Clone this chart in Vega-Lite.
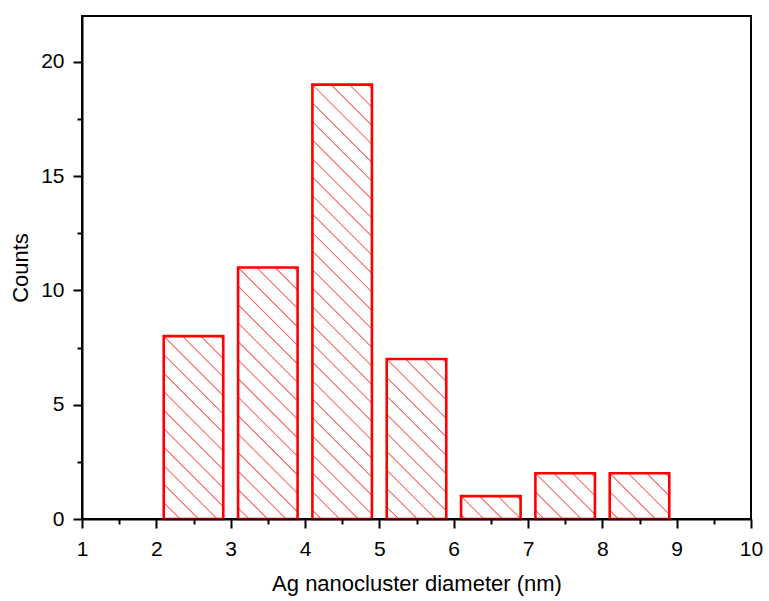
{
  "$schema": "https://vega.github.io/schema/vega-lite/v6.json",
  "width": 669,
  "height": 503,
  "autosize": {"type": "none"},
  "padding": {"left": 82, "top": 16, "right": 18, "bottom": 82},
  "background": "white",
  "config": {"view": {"stroke": "#000000", "strokeWidth": 2}, "font": "Liberation Sans"},
  "data": {"values": [
    {"bin_start": 2, "bin_end": 3, "count": 8},
    {"bin_start": 3, "bin_end": 4, "count": 11},
    {"bin_start": 4, "bin_end": 5, "count": 19},
    {"bin_start": 5, "bin_end": 6, "count": 7},
    {"bin_start": 6, "bin_end": 7, "count": 1},
    {"bin_start": 7, "bin_end": 8, "count": 2},
    {"bin_start": 8, "bin_end": 9, "count": 2}
  ]},
  "mark": {"type": "bar", "stroke": "#ff0000", "strokeWidth": 2.6, "strokeJoin": "miter", "xOffset": 7.4, "x2Offset": -7.4},
  "encoding": {
    "x": {
      "field": "bin_start", "type": "quantitative",
      "scale": {"domain": [1, 10], "nice": false, "zero": false},
      "axis": {
        "title": "Ag nanocluster diameter (nm)",
        "values": [1, 1.5, 2, 2.5, 3, 3.5, 4, 4.5, 5, 5.5, 6, 6.5, 7, 7.5, 8, 8.5, 9, 9.5, 10],
        "labelExpr": "datum.value % 1 === 0 ? format(datum.value, 'd') : ''",
        "tickSize": {"condition": {"test": "datum.value % 1 !== 0", "value": 5}, "value": 9},
        "tickWidth": 2, "tickColor": "#000000",
        "domainColor": "#000000", "domainWidth": 2,
        "labelFontSize": 21, "labelColor": "#000000", "labelPadding": 10,
        "labelFlush": false, "labelOverlap": false,
        "titleFontSize": 22, "titleFontWeight": "normal", "titleColor": "#000000", "titlePadding": 14,
        "grid": false, "zindex": 1
      }
    },
    "x2": {"field": "bin_end"},
    "y": {
      "field": "count", "type": "quantitative",
      "scale": {"domain": [0, 22], "nice": false},
      "axis": {
        "title": "Counts",
        "values": [0, 2.5, 5, 7.5, 10, 12.5, 15, 17.5, 20],
        "labelExpr": "datum.value % 5 === 0 ? format(datum.value, 'd') : ''",
        "tickSize": {"condition": {"test": "datum.value % 5 !== 0", "value": 5}, "value": 9},
        "tickWidth": 2, "tickColor": "#000000",
        "domainColor": "#000000", "domainWidth": 2,
        "labelFontSize": 21, "labelColor": "#000000", "labelPadding": 9,
        "labelOverlap": false,
        "titleFontSize": 22, "titleFontWeight": "normal", "titleColor": "#000000", "titlePadding": 8,
        "grid": false, "zindex": 1
      }
    },
    "y2": {"datum": 0},
    "fill": {
      "condition": [
        {"test": "datum.count === 8", "value": {"gradient": "linear", "x1": 0, "y1": 1, "x2": 0.3899, "y2": -0.1984, "stops": [
          {"offset": 0.0627, "color": "#ffffff"}, {"offset": 0.0660, "color": "#ff7070"}, {"offset": 0.0694, "color": "#ff7070"}, {"offset": 0.0727, "color": "#ffffff"},
          {"offset": 0.1390, "color": "#ffffff"}, {"offset": 0.1423, "color": "#ff7070"}, {"offset": 0.1457, "color": "#ff7070"}, {"offset": 0.1490, "color": "#ffffff"},
          {"offset": 0.2153, "color": "#ffffff"}, {"offset": 0.2186, "color": "#ff7070"}, {"offset": 0.2220, "color": "#ff7070"}, {"offset": 0.2253, "color": "#ffffff"},
          {"offset": 0.2916, "color": "#ffffff"}, {"offset": 0.2949, "color": "#ff7070"}, {"offset": 0.2983, "color": "#ff7070"}, {"offset": 0.3016, "color": "#ffffff"},
          {"offset": 0.3680, "color": "#ffffff"}, {"offset": 0.3713, "color": "#ff7070"}, {"offset": 0.3747, "color": "#ff7070"}, {"offset": 0.3780, "color": "#ffffff"},
          {"offset": 0.4443, "color": "#ffffff"}, {"offset": 0.4476, "color": "#ff7070"}, {"offset": 0.4510, "color": "#ff7070"}, {"offset": 0.4543, "color": "#ffffff"},
          {"offset": 0.5206, "color": "#ffffff"}, {"offset": 0.5239, "color": "#ff7070"}, {"offset": 0.5273, "color": "#ff7070"}, {"offset": 0.5306, "color": "#ffffff"},
          {"offset": 0.5969, "color": "#ffffff"}, {"offset": 0.6002, "color": "#ff7070"}, {"offset": 0.6036, "color": "#ff7070"}, {"offset": 0.6069, "color": "#ffffff"},
          {"offset": 0.6732, "color": "#ffffff"}, {"offset": 0.6765, "color": "#ff7070"}, {"offset": 0.6799, "color": "#ff7070"}, {"offset": 0.6832, "color": "#ffffff"},
          {"offset": 0.7496, "color": "#ffffff"}, {"offset": 0.7529, "color": "#ff7070"}, {"offset": 0.7563, "color": "#ff7070"}, {"offset": 0.7596, "color": "#ffffff"},
          {"offset": 0.8259, "color": "#ffffff"}, {"offset": 0.8292, "color": "#ff7070"}, {"offset": 0.8326, "color": "#ff7070"}, {"offset": 0.8359, "color": "#ffffff"},
          {"offset": 0.9022, "color": "#ffffff"}, {"offset": 0.9055, "color": "#ff7070"}, {"offset": 0.9089, "color": "#ff7070"}, {"offset": 0.9122, "color": "#ffffff"},
          {"offset": 0.9785, "color": "#ffffff"}, {"offset": 0.9818, "color": "#ff7070"}, {"offset": 0.9852, "color": "#ff7070"}, {"offset": 0.9885, "color": "#ffffff"}
        ]}},
        {"test": "datum.count === 11", "value": {"gradient": "linear", "x1": 0, "y1": 1, "x2": 0.2770, "y2": -0.1710, "stops": [
          {"offset": 0.0315, "color": "#ffffff"}, {"offset": 0.0341, "color": "#ff7070"}, {"offset": 0.0367, "color": "#ff7070"}, {"offset": 0.0393, "color": "#ffffff"},
          {"offset": 0.0910, "color": "#ffffff"}, {"offset": 0.0936, "color": "#ff7070"}, {"offset": 0.0962, "color": "#ff7070"}, {"offset": 0.0988, "color": "#ffffff"},
          {"offset": 0.1504, "color": "#ffffff"}, {"offset": 0.1530, "color": "#ff7070"}, {"offset": 0.1556, "color": "#ff7070"}, {"offset": 0.1582, "color": "#ffffff"},
          {"offset": 0.2099, "color": "#ffffff"}, {"offset": 0.2125, "color": "#ff7070"}, {"offset": 0.2151, "color": "#ff7070"}, {"offset": 0.2177, "color": "#ffffff"},
          {"offset": 0.2694, "color": "#ffffff"}, {"offset": 0.2720, "color": "#ff7070"}, {"offset": 0.2746, "color": "#ff7070"}, {"offset": 0.2772, "color": "#ffffff"},
          {"offset": 0.3289, "color": "#ffffff"}, {"offset": 0.3315, "color": "#ff7070"}, {"offset": 0.3341, "color": "#ff7070"}, {"offset": 0.3367, "color": "#ffffff"},
          {"offset": 0.3884, "color": "#ffffff"}, {"offset": 0.3910, "color": "#ff7070"}, {"offset": 0.3936, "color": "#ff7070"}, {"offset": 0.3962, "color": "#ffffff"},
          {"offset": 0.4479, "color": "#ffffff"}, {"offset": 0.4505, "color": "#ff7070"}, {"offset": 0.4531, "color": "#ff7070"}, {"offset": 0.4557, "color": "#ffffff"},
          {"offset": 0.5074, "color": "#ffffff"}, {"offset": 0.5100, "color": "#ff7070"}, {"offset": 0.5126, "color": "#ff7070"}, {"offset": 0.5152, "color": "#ffffff"},
          {"offset": 0.5668, "color": "#ffffff"}, {"offset": 0.5694, "color": "#ff7070"}, {"offset": 0.5720, "color": "#ff7070"}, {"offset": 0.5746, "color": "#ffffff"},
          {"offset": 0.6263, "color": "#ffffff"}, {"offset": 0.6289, "color": "#ff7070"}, {"offset": 0.6315, "color": "#ff7070"}, {"offset": 0.6341, "color": "#ffffff"},
          {"offset": 0.6858, "color": "#ffffff"}, {"offset": 0.6884, "color": "#ff7070"}, {"offset": 0.6910, "color": "#ff7070"}, {"offset": 0.6936, "color": "#ffffff"},
          {"offset": 0.7453, "color": "#ffffff"}, {"offset": 0.7479, "color": "#ff7070"}, {"offset": 0.7505, "color": "#ff7070"}, {"offset": 0.7531, "color": "#ffffff"},
          {"offset": 0.8048, "color": "#ffffff"}, {"offset": 0.8074, "color": "#ff7070"}, {"offset": 0.8100, "color": "#ff7070"}, {"offset": 0.8126, "color": "#ffffff"},
          {"offset": 0.8643, "color": "#ffffff"}, {"offset": 0.8669, "color": "#ff7070"}, {"offset": 0.8695, "color": "#ff7070"}, {"offset": 0.8721, "color": "#ffffff"},
          {"offset": 0.9238, "color": "#ffffff"}, {"offset": 0.9264, "color": "#ff7070"}, {"offset": 0.9290, "color": "#ff7070"}, {"offset": 0.9316, "color": "#ffffff"},
          {"offset": 0.9832, "color": "#ffffff"}, {"offset": 0.9858, "color": "#ff7070"}, {"offset": 0.9884, "color": "#ff7070"}, {"offset": 0.9910, "color": "#ffffff"}
        ]}},
        {"test": "datum.count === 19", "value": {"gradient": "linear", "x1": 0, "y1": 1, "x2": 0.1529, "y2": -0.1161, "stops": [
          {"offset": 0.0156, "color": "#ffffff"}, {"offset": 0.0172, "color": "#ff7070"}, {"offset": 0.0188, "color": "#ff7070"}, {"offset": 0.0204, "color": "#ffffff"},
          {"offset": 0.0531, "color": "#ffffff"}, {"offset": 0.0547, "color": "#ff7070"}, {"offset": 0.0563, "color": "#ff7070"}, {"offset": 0.0579, "color": "#ffffff"},
          {"offset": 0.0906, "color": "#ffffff"}, {"offset": 0.0922, "color": "#ff7070"}, {"offset": 0.0938, "color": "#ff7070"}, {"offset": 0.0954, "color": "#ffffff"},
          {"offset": 0.1280, "color": "#ffffff"}, {"offset": 0.1296, "color": "#ff7070"}, {"offset": 0.1312, "color": "#ff7070"}, {"offset": 0.1328, "color": "#ffffff"},
          {"offset": 0.1655, "color": "#ffffff"}, {"offset": 0.1671, "color": "#ff7070"}, {"offset": 0.1687, "color": "#ff7070"}, {"offset": 0.1703, "color": "#ffffff"},
          {"offset": 0.2029, "color": "#ffffff"}, {"offset": 0.2045, "color": "#ff7070"}, {"offset": 0.2061, "color": "#ff7070"}, {"offset": 0.2077, "color": "#ffffff"},
          {"offset": 0.2404, "color": "#ffffff"}, {"offset": 0.2420, "color": "#ff7070"}, {"offset": 0.2436, "color": "#ff7070"}, {"offset": 0.2452, "color": "#ffffff"},
          {"offset": 0.2778, "color": "#ffffff"}, {"offset": 0.2794, "color": "#ff7070"}, {"offset": 0.2810, "color": "#ff7070"}, {"offset": 0.2826, "color": "#ffffff"},
          {"offset": 0.3153, "color": "#ffffff"}, {"offset": 0.3169, "color": "#ff7070"}, {"offset": 0.3185, "color": "#ff7070"}, {"offset": 0.3201, "color": "#ffffff"},
          {"offset": 0.3527, "color": "#ffffff"}, {"offset": 0.3543, "color": "#ff7070"}, {"offset": 0.3559, "color": "#ff7070"}, {"offset": 0.3575, "color": "#ffffff"},
          {"offset": 0.3902, "color": "#ffffff"}, {"offset": 0.3918, "color": "#ff7070"}, {"offset": 0.3934, "color": "#ff7070"}, {"offset": 0.3950, "color": "#ffffff"},
          {"offset": 0.4277, "color": "#ffffff"}, {"offset": 0.4293, "color": "#ff7070"}, {"offset": 0.4309, "color": "#ff7070"}, {"offset": 0.4325, "color": "#ffffff"},
          {"offset": 0.4651, "color": "#ffffff"}, {"offset": 0.4667, "color": "#ff7070"}, {"offset": 0.4683, "color": "#ff7070"}, {"offset": 0.4699, "color": "#ffffff"},
          {"offset": 0.5026, "color": "#ffffff"}, {"offset": 0.5042, "color": "#ff7070"}, {"offset": 0.5058, "color": "#ff7070"}, {"offset": 0.5074, "color": "#ffffff"},
          {"offset": 0.5400, "color": "#ffffff"}, {"offset": 0.5416, "color": "#ff7070"}, {"offset": 0.5432, "color": "#ff7070"}, {"offset": 0.5448, "color": "#ffffff"},
          {"offset": 0.5775, "color": "#ffffff"}, {"offset": 0.5791, "color": "#ff7070"}, {"offset": 0.5807, "color": "#ff7070"}, {"offset": 0.5823, "color": "#ffffff"},
          {"offset": 0.6149, "color": "#ffffff"}, {"offset": 0.6165, "color": "#ff7070"}, {"offset": 0.6181, "color": "#ff7070"}, {"offset": 0.6197, "color": "#ffffff"},
          {"offset": 0.6524, "color": "#ffffff"}, {"offset": 0.6540, "color": "#ff7070"}, {"offset": 0.6556, "color": "#ff7070"}, {"offset": 0.6572, "color": "#ffffff"},
          {"offset": 0.6899, "color": "#ffffff"}, {"offset": 0.6915, "color": "#ff7070"}, {"offset": 0.6931, "color": "#ff7070"}, {"offset": 0.6947, "color": "#ffffff"},
          {"offset": 0.7273, "color": "#ffffff"}, {"offset": 0.7289, "color": "#ff7070"}, {"offset": 0.7305, "color": "#ff7070"}, {"offset": 0.7321, "color": "#ffffff"},
          {"offset": 0.7648, "color": "#ffffff"}, {"offset": 0.7664, "color": "#ff7070"}, {"offset": 0.7680, "color": "#ff7070"}, {"offset": 0.7696, "color": "#ffffff"},
          {"offset": 0.8022, "color": "#ffffff"}, {"offset": 0.8038, "color": "#ff7070"}, {"offset": 0.8054, "color": "#ff7070"}, {"offset": 0.8070, "color": "#ffffff"},
          {"offset": 0.8397, "color": "#ffffff"}, {"offset": 0.8413, "color": "#ff7070"}, {"offset": 0.8429, "color": "#ff7070"}, {"offset": 0.8445, "color": "#ffffff"},
          {"offset": 0.8771, "color": "#ffffff"}, {"offset": 0.8787, "color": "#ff7070"}, {"offset": 0.8803, "color": "#ff7070"}, {"offset": 0.8819, "color": "#ffffff"},
          {"offset": 0.9146, "color": "#ffffff"}, {"offset": 0.9162, "color": "#ff7070"}, {"offset": 0.9178, "color": "#ff7070"}, {"offset": 0.9194, "color": "#ffffff"},
          {"offset": 0.9520, "color": "#ffffff"}, {"offset": 0.9536, "color": "#ff7070"}, {"offset": 0.9552, "color": "#ff7070"}, {"offset": 0.9568, "color": "#ffffff"},
          {"offset": 0.9895, "color": "#ffffff"}, {"offset": 0.9911, "color": "#ff7070"}, {"offset": 0.9927, "color": "#ff7070"}, {"offset": 0.9943, "color": "#ffffff"}
        ]}},
        {"test": "datum.count === 7", "value": {"gradient": "linear", "x1": 0, "y1": 1, "x2": 0.4480, "y2": -0.2052, "stops": [
          {"offset": 0.0494, "color": "#ffffff"}, {"offset": 0.0531, "color": "#ff7070"}, {"offset": 0.0567, "color": "#ff7070"}, {"offset": 0.0604, "color": "#ffffff"},
          {"offset": 0.1337, "color": "#ffffff"}, {"offset": 0.1374, "color": "#ff7070"}, {"offset": 0.1410, "color": "#ff7070"}, {"offset": 0.1447, "color": "#ffffff"},
          {"offset": 0.2179, "color": "#ffffff"}, {"offset": 0.2216, "color": "#ff7070"}, {"offset": 0.2252, "color": "#ff7070"}, {"offset": 0.2289, "color": "#ffffff"},
          {"offset": 0.3022, "color": "#ffffff"}, {"offset": 0.3059, "color": "#ff7070"}, {"offset": 0.3095, "color": "#ff7070"}, {"offset": 0.3132, "color": "#ffffff"},
          {"offset": 0.3864, "color": "#ffffff"}, {"offset": 0.3901, "color": "#ff7070"}, {"offset": 0.3937, "color": "#ff7070"}, {"offset": 0.3974, "color": "#ffffff"},
          {"offset": 0.4707, "color": "#ffffff"}, {"offset": 0.4744, "color": "#ff7070"}, {"offset": 0.4780, "color": "#ff7070"}, {"offset": 0.4817, "color": "#ffffff"},
          {"offset": 0.5550, "color": "#ffffff"}, {"offset": 0.5587, "color": "#ff7070"}, {"offset": 0.5623, "color": "#ff7070"}, {"offset": 0.5660, "color": "#ffffff"},
          {"offset": 0.6392, "color": "#ffffff"}, {"offset": 0.6429, "color": "#ff7070"}, {"offset": 0.6465, "color": "#ff7070"}, {"offset": 0.6502, "color": "#ffffff"},
          {"offset": 0.7235, "color": "#ffffff"}, {"offset": 0.7272, "color": "#ff7070"}, {"offset": 0.7308, "color": "#ff7070"}, {"offset": 0.7345, "color": "#ffffff"},
          {"offset": 0.8078, "color": "#ffffff"}, {"offset": 0.8115, "color": "#ff7070"}, {"offset": 0.8151, "color": "#ff7070"}, {"offset": 0.8188, "color": "#ffffff"},
          {"offset": 0.8920, "color": "#ffffff"}, {"offset": 0.8957, "color": "#ff7070"}, {"offset": 0.8993, "color": "#ff7070"}, {"offset": 0.9030, "color": "#ffffff"},
          {"offset": 0.9763, "color": "#ffffff"}, {"offset": 0.9800, "color": "#ff7070"}, {"offset": 0.9836, "color": "#ff7070"}, {"offset": 0.9873, "color": "#ffffff"}
        ]}},
        {"test": "datum.count === 1", "value": {"gradient": "linear", "x1": 0, "y1": 1, "x2": 1.2062, "y2": 0.5366, "stops": [
          {"offset": 0.0383, "color": "#ffffff"}, {"offset": 0.0480, "color": "#ff7070"}, {"offset": 0.0578, "color": "#ff7070"}, {"offset": 0.0675, "color": "#ffffff"},
          {"offset": 0.2630, "color": "#ffffff"}, {"offset": 0.2727, "color": "#ff7070"}, {"offset": 0.2825, "color": "#ff7070"}, {"offset": 0.2922, "color": "#ffffff"},
          {"offset": 0.4876, "color": "#ffffff"}, {"offset": 0.4973, "color": "#ff7070"}, {"offset": 0.5071, "color": "#ff7070"}, {"offset": 0.5168, "color": "#ffffff"},
          {"offset": 0.7122, "color": "#ffffff"}, {"offset": 0.7219, "color": "#ff7070"}, {"offset": 0.7317, "color": "#ff7070"}, {"offset": 0.7414, "color": "#ffffff"},
          {"offset": 0.9368, "color": "#ffffff"}, {"offset": 0.9465, "color": "#ff7070"}, {"offset": 0.9563, "color": "#ff7070"}, {"offset": 0.9660, "color": "#ffffff"}
        ]}},
        {"test": "datum.count === 2", "value": {"gradient": "linear", "x1": 0, "y1": 1, "x2": 1.1118, "y2": 0.1455, "stops": [
          {"offset": 0.0716, "color": "#ffffff"}, {"offset": 0.0792, "color": "#ff7070"}, {"offset": 0.0868, "color": "#ff7070"}, {"offset": 0.0944, "color": "#ffffff"},
          {"offset": 0.2474, "color": "#ffffff"}, {"offset": 0.2550, "color": "#ff7070"}, {"offset": 0.2626, "color": "#ff7070"}, {"offset": 0.2702, "color": "#ffffff"},
          {"offset": 0.4232, "color": "#ffffff"}, {"offset": 0.4308, "color": "#ff7070"}, {"offset": 0.4384, "color": "#ff7070"}, {"offset": 0.4460, "color": "#ffffff"},
          {"offset": 0.5990, "color": "#ffffff"}, {"offset": 0.6066, "color": "#ff7070"}, {"offset": 0.6142, "color": "#ff7070"}, {"offset": 0.6218, "color": "#ffffff"},
          {"offset": 0.7748, "color": "#ffffff"}, {"offset": 0.7824, "color": "#ff7070"}, {"offset": 0.7900, "color": "#ff7070"}, {"offset": 0.7976, "color": "#ffffff"},
          {"offset": 0.9506, "color": "#ffffff"}, {"offset": 0.9582, "color": "#ff7070"}, {"offset": 0.9658, "color": "#ff7070"}, {"offset": 0.9734, "color": "#ffffff"}
        ]}}
      ],
      "value": "#ffffff"
    }
  }
}
